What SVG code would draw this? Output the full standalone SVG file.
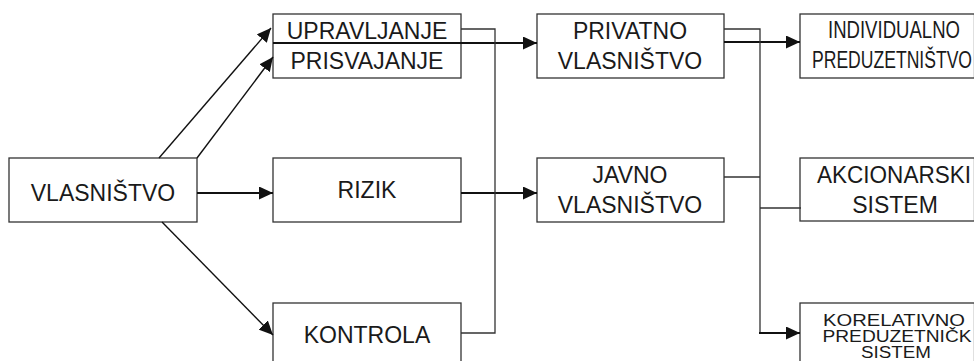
<svg xmlns="http://www.w3.org/2000/svg" width="974" height="361" viewBox="0 0 974 361">
<style>
.box{fill:#fff;stroke:#333;stroke-width:1.3}
.t{font-family:"Liberation Sans",Arial,sans-serif;font-size:23px;fill:#1a1a1a;text-anchor:middle}
.s{font-size:16px}
.arr{stroke:#111;stroke-width:2;fill:none}
.diag{stroke:#111;stroke-width:1.4;fill:none}
.con{stroke:#333;stroke-width:1.3;fill:none}
</style>
<defs>
<marker id="ah" markerUnits="userSpaceOnUse" markerWidth="15" markerHeight="13" refX="14" refY="6.5" orient="auto">
<path d="M0,0 L14,6.5 L0,13 z" fill="#111"/>
</marker>
</defs>
<g id="n-vlasnistvo"><rect class="box" x="9" y="158" width="188" height="64"/><text class="t" x="103" y="201">VLASNIŠTVO</text></g>
<g id="n-upravljanje"><rect class="box" x="273" y="14" width="188" height="64"/><line x1="273" y1="43" x2="461" y2="43" stroke="#111" stroke-width="2"/><text class="t" x="367" y="39">UPRAVLJANJE</text><text class="t" x="367" y="69">PRISVAJANJE</text></g>
<g id="n-rizik"><rect class="box" x="273" y="158" width="188" height="64"/><text class="t" x="367" y="198">RIZIK</text></g>
<g id="n-kontrola"><rect class="box" x="273" y="303" width="188" height="70"/><text class="t" x="367" y="343">KONTROLA</text></g>
<g id="n-privatno"><rect class="box" x="537" y="14" width="187" height="64"/><text class="t" x="630" y="39">PRIVATNO</text><text class="t" x="630" y="69">VLASNIŠTVO</text></g>
<g id="n-javno"><rect class="box" x="537" y="158" width="187" height="64"/><text class="t" x="630" y="183">JAVNO</text><text class="t" x="630" y="213">VLASNIŠTVO</text></g>
<g id="n-individualno"><rect class="box" x="800" y="14" width="174.5" height="64"/><text class="t" x="894" y="38" textLength="132" lengthAdjust="spacingAndGlyphs">INDIVIDUALNO</text><text class="t" x="892" y="68" textLength="160" lengthAdjust="spacingAndGlyphs">PREDUZETNIŠTVO</text></g>
<g id="n-akcionarski"><rect class="box" x="800" y="158" width="174.5" height="63"/><text class="t" x="894" y="183" textLength="154" lengthAdjust="spacingAndGlyphs">AKCIONARSKI</text><text class="t" x="895" y="213">SISTEM</text></g>
<g id="n-korelativno"><rect class="box" x="800" y="303" width="174.5" height="70"/><text class="t s" x="894" y="326" textLength="142" lengthAdjust="spacingAndGlyphs">KORELATIVNO</text><text class="t s" x="897" y="342" textLength="149" lengthAdjust="spacingAndGlyphs">PREDUZETNIČK</text><text class="t s" x="896" y="358" textLength="70" lengthAdjust="spacingAndGlyphs">SISTEM</text></g>
<g id="connectors">
<line class="diag" x1="159" y1="158" x2="271" y2="28" marker-end="url(#ah)"/>
<line class="diag" x1="197" y1="158" x2="273" y2="57" marker-end="url(#ah)"/>
<line class="diag" x1="162" y1="222" x2="273" y2="335" marker-end="url(#ah)"/>
<line class="arr" x1="197" y1="193" x2="273" y2="193" marker-end="url(#ah)"/>
<line class="arr" x1="461" y1="193" x2="537" y2="193" marker-end="url(#ah)"/>
<line class="arr" x1="461" y1="43" x2="537" y2="43" marker-end="url(#ah)"/>
<polyline class="con" points="461,29 495,29 495,333 461,333"/>
<line class="arr" x1="724" y1="42" x2="800" y2="42" marker-end="url(#ah)"/>
<polyline class="con" points="724,29 760,29 760,333"/>
<line class="arr" x1="759" y1="333" x2="800" y2="333" marker-end="url(#ah)"/>
<line class="con" x1="724" y1="177" x2="760" y2="177"/>
<line class="con" x1="760" y1="208" x2="801" y2="208"/>
</g>
</svg>
